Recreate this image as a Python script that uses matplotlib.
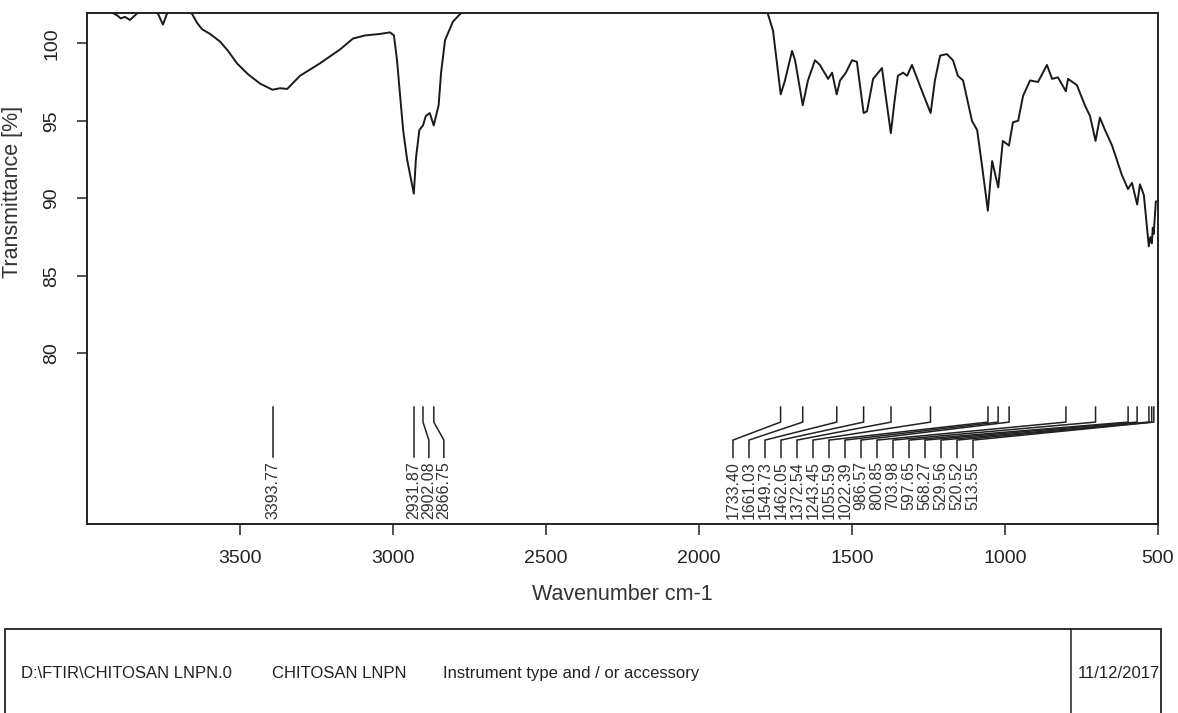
import matplotlib.pyplot as plt
from matplotlib import font_manager
from matplotlib.patches import Rectangle
from matplotlib.lines import Line2D

# FTIR spectrum of chitosan LNPN (wavenumber in cm-1, transmittance in %)
wavenumber = [3990, 3950, 3902, 3890, 3876, 3860, 3843, 3810, 3768, 3752, 3739,
              3712, 3657, 3640, 3624, 3598, 3565, 3539, 3510, 3474, 3435, 3394,
              3369, 3346, 3304, 3239, 3173, 3131, 3092, 3042, 3010, 2997, 2987,
              2967, 2954, 2932, 2925, 2914, 2902, 2893, 2880, 2867, 2851, 2843,
              2830, 2804, 2775, 2748, 2500, 2000, 1784, 1775, 1758, 1733, 1719,
              1696, 1686, 1661, 1644, 1621, 1605, 1578, 1565, 1550, 1539, 1520,
              1500, 1484, 1462, 1451, 1431, 1402, 1392, 1373, 1362, 1350, 1333,
              1320, 1304, 1271, 1243, 1229, 1212, 1190, 1170, 1154, 1137, 1108,
              1091, 1075, 1056, 1042, 1022, 1007, 987, 974, 957, 941, 918, 892,
              863, 846, 827, 801, 794, 765, 739, 722, 704, 690, 673, 650, 618,
              598, 585, 568, 559, 546, 530, 525, 520, 517, 514, 507, 500]
transmittance = [102.5, 102.3, 101.8, 101.6, 101.7, 101.5, 101.8, 102.4, 101.9,
                 101.2, 101.9, 102.4, 101.9, 101.3, 100.9, 100.6, 100.1, 99.5,
                 98.7, 98.0, 97.4, 97.0, 97.1, 97.05, 97.9, 98.7, 99.6, 100.3,
                 100.5, 100.6, 100.7, 100.5, 98.9, 94.4, 92.5, 90.3, 92.6, 94.4,
                 94.7, 95.3, 95.5, 94.7, 96.0, 98.1, 100.2, 101.4, 102.0, 102.5,
                 103.0, 103.0, 102.5, 101.9, 100.8, 96.7, 97.6, 99.5, 98.9, 96.0,
                 97.6, 98.9, 98.6, 97.7, 98.1, 96.7, 97.6, 98.1, 98.9, 98.8, 95.5,
                 95.6, 97.7, 98.4, 96.9, 94.2, 96.1, 97.9, 98.1, 97.9, 98.6, 96.9,
                 95.5, 97.6, 99.2, 99.3, 98.9, 97.9, 97.6, 95.0, 94.4, 92.1, 89.2,
                 92.4, 90.7, 93.7, 93.4, 94.9, 95.0, 96.6, 97.6, 97.5, 98.6, 97.7,
                 97.8, 96.9, 97.7, 97.3, 96.0, 95.3, 93.7, 95.2, 94.4, 93.4, 91.5,
                 90.6, 91.0, 89.6, 90.9, 90.2, 86.9, 87.5, 87.1, 88.1, 87.7, 89.8,
                 89.8]

# picked peaks and the label cluster each one belongs to
peaks = [3393.77, 2931.87, 2902.08, 2866.75, 1733.40, 1661.03, 1549.73,
         1462.05, 1372.54, 1243.45, 1055.59, 1022.39, 986.57, 800.85, 703.98,
         597.65, 568.27, 529.56, 520.52, 513.55]
peak_group = [0, 1, 1, 1] + [2] * 16
group_start = [3393.77, 2931.87, 1889.0]
group_step = [0.0, 49.0, 52.3]

info_texts = ["D:\\FTIR\\CHITOSAN LNPN.0", "CHITOSAN LNPN",
              "Instrument type and / or accessory"]
date_text = "11/12/2017"

names = {f.name for f in font_manager.fontManager.ttflist}
narrow = "Liberation Sans Narrow" if "Liberation Sans Narrow" in names else "Liberation Sans"
plt.rcParams['font.family'] = ['Liberation Sans', 'DejaVu Sans']

fig = plt.figure(figsize=(11.78, 7.13), dpi=100)
ax = fig.add_axes([0.0739, 0.2651, 0.9091, 0.7167])

ax.plot(wavenumber, transmittance, color='#1a1a1a', lw=1.4)
ax.set_xlim(4000, 500)
ax.set_ylim(69.0, 101.95)

# peak sticks: short tick at the peak, bent leader down to the label slot
y_top, y_bend1, y_bend2, y_bot, y_text = 76.54, 75.57, 74.41, 73.3, 73.05
slot_count = [0, 0, 0]
for p, g in zip(peaks, peak_group):
    lx = group_start[g] - group_step[g] * slot_count[g]
    slot_count[g] += 1
    ax.plot([p, p, lx, lx], [y_top, y_bend1, y_bend2, y_bot],
            color='#222222', lw=1.1, solid_joinstyle='miter')
    ax.text(lx, y_text, f"{p:.2f}", rotation=90, ha='center', va='top',
            fontsize=11.5, color='#333333')

ax.set_yticks([80, 85, 90, 95, 100])
ax.set_xticks([3500, 3000, 2500, 2000, 1500, 1000, 500])
ax.tick_params(axis='y', direction='out', length=7.2, width=1.1, pad=12,
               labelsize=14, labelrotation=90, colors='#222222')
ax.tick_params(axis='x', direction='out', length=8, width=1.1, pad=11,
               labelsize=14, colors='#222222')
for lab in ax.get_yticklabels():
    lab.set_va('center')
for s in ax.spines.values():
    s.set_linewidth(1.4)
    s.set_color('#222222')

ax.set_ylabel("Transmittance [%]", fontsize=15.5, color='#333333')
ax.yaxis.set_label_coords(-0.06, 0.65)
ax.set_xlabel("Wavenumber cm-1", fontsize=15.5, color='#333333', labelpad=12)

# info box below the plot
fig.patches.append(Rectangle((0.0045, -0.05), 0.981, 0.1678, transform=fig.transFigure,
                             fill=False, lw=1.3, edgecolor='#222222'))
fig.lines.append(Line2D([0.9095, 0.9095], [-0.05, 0.1178], transform=fig.transFigure,
                        lw=1.1, color='#222222'))
for txt, x in zip(info_texts, [0.018, 0.231, 0.376]):
    fig.text(x, 0.056, txt, fontsize=12, family=narrow, va='center', color='#222222')
fig.text(0.9145, 0.056, date_text, fontsize=12, family=narrow, va='center', color='#222222')

fig.savefig("out.png", dpi=100)
